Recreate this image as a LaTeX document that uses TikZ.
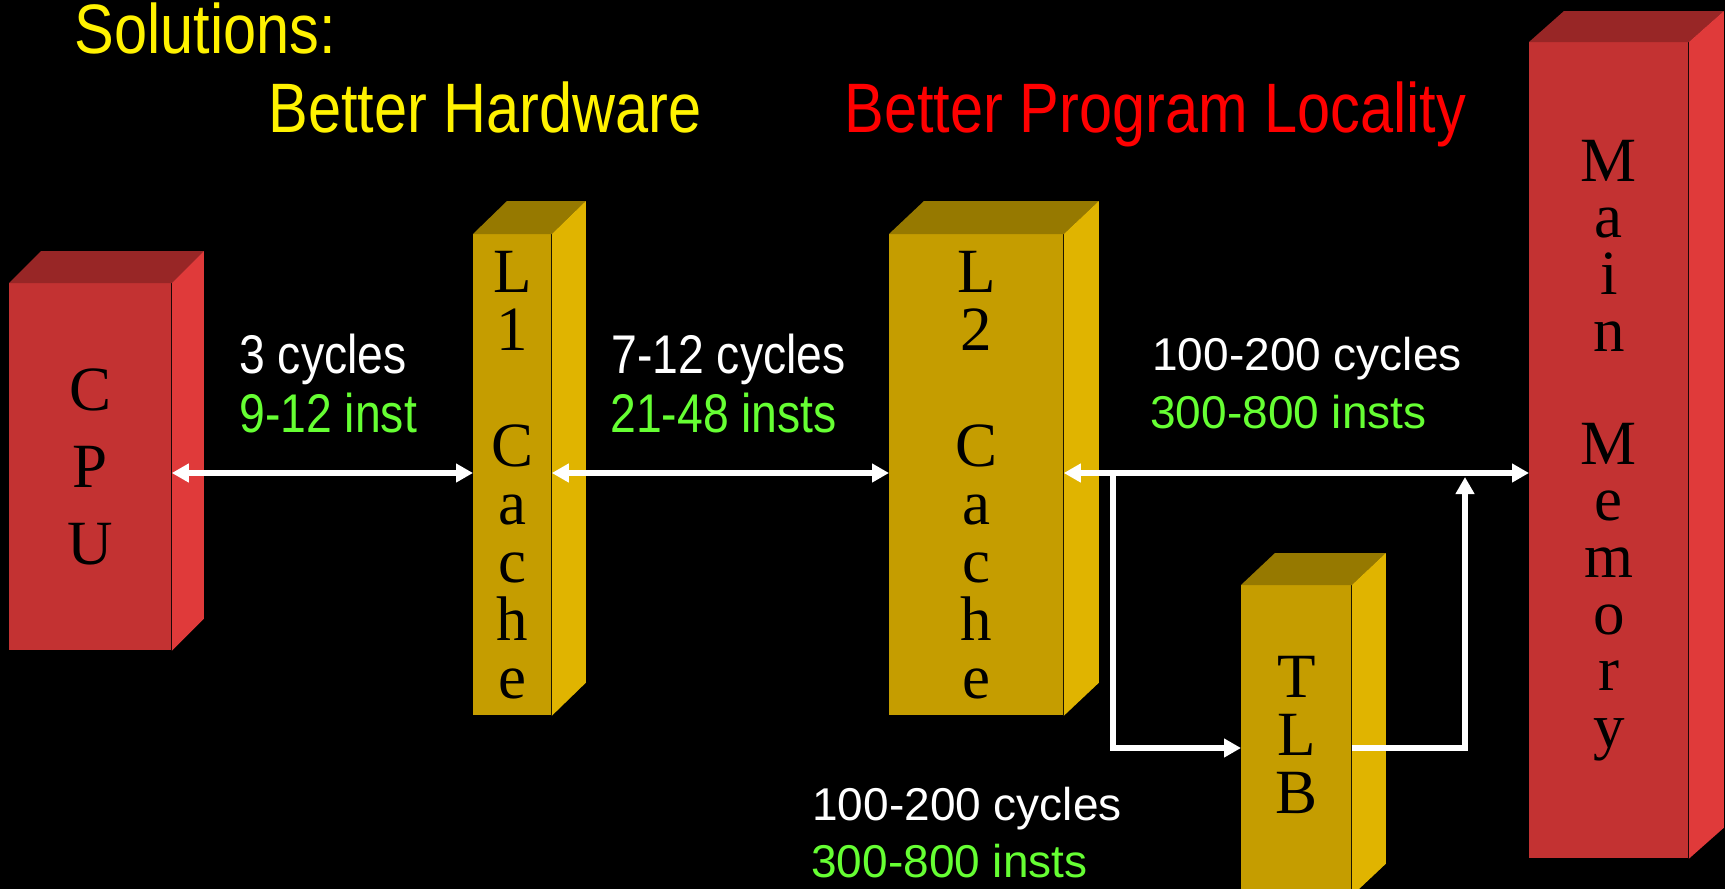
\documentclass[tikz,border=0pt]{standalone}
\usepackage{fontspec}
\setmainfont{Liberation Serif}
\newfontfamily\narrowsans[FakeStretch=0.85]{Liberation Sans}
\newfontfamily\plainsans{Liberation Sans}
\usepackage{tikz}
\usetikzlibrary{arrows.meta}

\definecolor{redfront}{RGB}{195,50,50}
\definecolor{redside}{RGB}{224,58,58}
\definecolor{redtop}{RGB}{152,38,38}
\definecolor{goldfront}{RGB}{197,157,0}
\definecolor{goldside}{RGB}{224,180,0}
\definecolor{goldtop}{RGB}{150,121,0}
\definecolor{instgreen}{RGB}{102,255,51}

% top and right faces of a box: node, top colour, side colour, dx, dy
\newcommand{\boxfaces}[5]{%
  \fill[#2] (#1.north west) -- ++(#4,-#5) -- ([shift={(#4,-#5)}]#1.north east) -- (#1.north east) -- cycle;
  \fill[#3] (#1.north east) -- ++(#4,-#5) -- ([shift={(#4,-#5)}]#1.south east) -- (#1.south east) -- cycle;}

\begin{document}
\begin{tikzpicture}[x=0.5pt, y=-0.5pt,
  block/.style={rectangle, inner sep=0pt, anchor=north west, align=center, font=\fontsize{31.5pt}{29pt}\selectfont},
  condlabel/.style={inner sep=0pt, anchor=base west, font=\narrowsans\fontsize{27.25pt}{30pt}\selectfont},
  plainlabel/.style={inner sep=0pt, anchor=base west, font=\plainsans\fontsize{23pt}{26pt}\selectfont},
  heading/.style={inner sep=0pt, anchor=base west, font=\narrowsans\fontsize{35pt}{40pt}\selectfont},
  twoway/.style={white, line width=3pt, {Triangle[length=8.5pt, width=9pt]}-{Triangle[length=8.5pt, width=9pt]}},
  oneway/.style={white, line width=3pt, -{Triangle[length=8.5pt, width=9pt]}}]

\useasboundingbox (0,0) rectangle (1725,889);
\fill[black] (0,0) rectangle (1725,889);

% Headings
\node[heading, yellow] (sol) at (74,53) {Solutions:};
\node[heading, yellow] (hw) at (268,132) {Better Hardware};
\node[heading, red] (loc) at (844,132) {Better Program Locality};

% Memory levels
\node[block, fill=redfront, minimum width=81pt, minimum height=183.5pt, font=\fontsize{31.5pt}{38.5pt}\selectfont] (cpu) at (9,283) {C\\P\\U};
\boxfaces{cpu}{redtop}{redside}{32}{32}
\node[block, fill=goldfront, minimum width=39pt, minimum height=240.5pt] (l1) at (473,234) {L\\1\\[29pt]C\\a\\c\\h\\e};
\boxfaces{l1}{goldtop}{goldside}{34}{33}
\node[block, fill=goldfront, minimum width=87pt, minimum height=240.5pt] (l2) at (889,234) {L\\2\\[29pt]C\\a\\c\\h\\e};
\boxfaces{l2}{goldtop}{goldside}{35}{33}
\node[block, fill=goldfront, minimum width=55pt, minimum height=155pt, text depth=6pt] (tlb) at (1241,585) {T\\L\\B};
\boxfaces{tlb}{goldtop}{goldside}{34}{32}
\node[block, fill=redfront, minimum width=79.5pt, minimum height=408pt, font=\fontsize{31.5pt}{28.3pt}\selectfont] (mem) at (1529,42) {M\\a\\i\\n\\[28.3pt]M\\e\\m\\o\\r\\y};
\boxfaces{mem}{redtop}{redside}{35}{31}

% Arrows
\coordinate (bus) at (0,473);
\coordinate (split) at (1113,473);
\coordinate (low) at (0,748);
\coordinate (join) at (1465,477);
\draw[twoway] (cpu.east |- bus) -- (l1.west |- bus);
\draw[twoway] (l1.east |- bus) -- (l2.west |- bus);
\draw[twoway] (l2.east |- bus) -- (mem.west |- bus);
\draw[oneway] (split) |- (tlb.west |- low);
\draw[oneway] (tlb.east |- low) -| (join);

% Latencies
\node[condlabel, white] (l1cyc) at (239,373) {3 cycles};
\node[condlabel, instgreen] (l1inst) at (239,432) {9-12 inst};
\node[condlabel, white] (l2cyc) at (611,373) {7-12 cycles};
\node[condlabel, instgreen] (l2inst) at (610,432) {21-48 insts};
\node[plainlabel, white] (memcyc) at (1152,370) {100-200 cycles};
\node[plainlabel, instgreen] (meminst) at (1150,428) {300-800 insts};
\node[plainlabel, white] (tlbcyc) at (812,820) {100-200 cycles};
\node[plainlabel, instgreen] (tlbinst) at (811,877) {300-800 insts};

\end{tikzpicture}
\end{document}
